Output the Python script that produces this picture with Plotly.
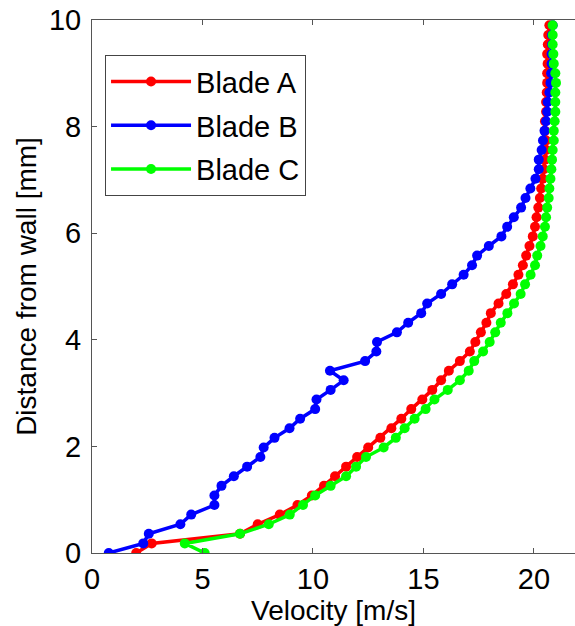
import plotly.graph_objects as go

distance_mm = [0.0, 0.18, 0.36, 0.54, 0.72, 0.9, 1.08, 1.26, 1.44, 1.62,
               1.8, 1.98, 2.16, 2.34, 2.52, 2.7, 2.88, 3.06, 3.24, 3.42,
               3.6, 3.78, 3.96, 4.14, 4.32, 4.5, 4.68, 4.86, 5.04, 5.22,
               5.4, 5.58, 5.76, 5.94, 6.12, 6.3, 6.48, 6.66, 6.84, 7.02,
               7.2, 7.38, 7.56, 7.74, 7.92, 8.1, 8.28, 8.46, 8.64, 8.82,
               9.0, 9.18, 9.36, 9.54, 9.72, 9.9]

blade_a = [2.0, 2.7, 6.7, 7.5, 8.5, 9.3, 9.95, 10.5, 11.0, 11.5,
           12.0, 12.5, 13.05, 13.55, 14.0, 14.45, 14.95, 15.4, 15.8, 16.15,
           16.65, 17.1, 17.35, 17.6, 17.85, 18.05, 18.4, 18.75, 19.05, 19.3,
           19.5, 19.65, 19.8, 19.95, 20.05, 20.12, 20.2, 20.27, 20.33, 20.4,
           20.45, 20.5, 20.55, 20.55, 20.5, 20.5, 20.55, 20.55, 20.58, 20.6,
           20.6, 20.62, 20.6, 20.63, 20.65, 20.7]

blade_b = [0.76, 2.32, 2.57, 4.0, 4.49, 5.54, 5.54, 5.86, 6.42, 7.02,
           7.62, 7.77, 8.26, 8.94, 9.42, 10.1, 10.16, 10.8, 11.39, 10.77,
           12.36, 12.87, 12.9, 13.8, 14.31, 14.9, 15.17, 15.8, 16.3, 16.82,
           17.2, 17.43, 17.96, 18.53, 18.79, 19.09, 19.42, 19.62, 19.84, 20.07,
           20.22, 20.22, 20.35, 20.41, 20.48, 20.55, 20.6, 20.62, 20.7, 20.75,
           20.78, 20.8, 20.8, 20.82, 20.82, 20.85]

blade_c = [5.1, 4.2, 6.7, 8.0, 8.95, 9.55, 10.1, 10.8, 11.5, 11.95,
           12.4, 13.2, 13.75, 14.15, 14.6, 15.1, 15.5, 16.1, 16.65, 17.05,
           17.3, 17.7, 18.0, 18.25, 18.5, 18.8, 19.1, 19.4, 19.6, 19.85,
           20.05, 20.15, 20.3, 20.4, 20.5, 20.55, 20.6, 20.67, 20.7, 20.75,
           20.79, 20.82, 20.85, 20.9, 20.9, 20.94, 20.97, 20.97, 20.97, 21.0,
           20.97, 20.9, 20.88, 20.85, 20.85, 20.85]

series = [("Blade A", blade_a, "#ff0000"),
          ("Blade B", blade_b, "#0000ff"),
          ("Blade C", blade_c, "#00ff00")]

x_ticks = [0, 5, 10, 15, 20]
y_ticks = [0, 2, 4, 6, 8, 10]

FONT = "Liberation Sans, Arial, sans-serif"

fig = go.Figure()
for name, vals, color in series:
    fig.add_trace(go.Scatter(
        x=vals, y=distance_mm, mode="lines+markers", name=name,
        legendgroup=name,
        line=dict(color=color, width=3.5),
        marker=dict(color=color, size=10),
    ))

fig.update_layout(
    width=575, height=626,
    margin=dict(l=92, r=0, t=20, b=73),
    paper_bgcolor="white", plot_bgcolor="white",
    font=dict(family=FONT, size=28, color="black"),
    showlegend=True,
    legend=dict(
        x=0.027, y=0.934, xanchor="left", yanchor="top",
        bgcolor="white", bordercolor="#444", borderwidth=1,
        font=dict(family=FONT, size=29, color="black"),
        itemwidth=80, tracegroupgap=3,
    ),
    xaxis=dict(
        range=[0, 21.86], tickvals=x_ticks, showgrid=False, zeroline=False,
        showline=True, linecolor="#555", linewidth=1, mirror="allticks",
        ticks="inside", ticklen=5, tickcolor="#555", automargin=False,
        tickfont=dict(family=FONT, size=29), ticklabeloverflow="allow",
        title=dict(text="Velocity [m/s]", font=dict(family=FONT, size=28), standoff=0),
    ),
    yaxis=dict(
        range=[0, 10], tickvals=y_ticks, showgrid=False, zeroline=False,
        showline=True, linecolor="#555", linewidth=1, automargin=False,
        ticks="inside", ticklen=5, tickcolor="#555", ticklabelstandoff=4,
        tickfont=dict(family=FONT, size=29), ticklabeloverflow="allow",
        title=dict(text="Distance from wall [mm]", font=dict(family=FONT, size=28), standoff=4),
    ),
)

# remove the page's default 8px body margin so the figure fills the window
fig.write_html("out.html", config={"displayModeBar": False},
               post_script="document.body.style.margin='0';document.body.style.overflow='hidden';")
